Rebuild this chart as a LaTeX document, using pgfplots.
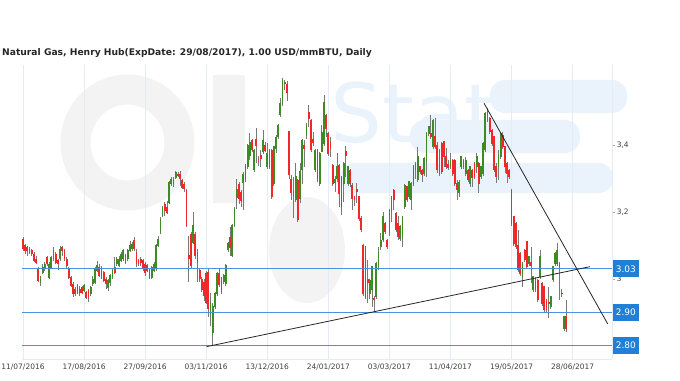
\documentclass[border=0pt]{standalone}
\usepackage{pgfplots}
\pgfplotsset{compat=1.18}
\usepackage{pgfplotstable}
\usepackage{fontspec}
\setmainfont{DejaVu Sans}
\definecolor{upc}{RGB}{60,140,35}
\definecolor{dnc}{RGB}{240,40,40}
\definecolor{wick}{RGB}{120,120,120}
\definecolor{lvl}{RGB}{74,146,222}
\definecolor{lvlbox}{RGB}{34,127,214}
\definecolor{gridc}{RGB}{226,236,246}
\definecolor{wmgray}{RGB}{243,243,243}
\definecolor{wmblue}{RGB}{234,243,252}

\pgfplotstableread{
i o h l c
0 3.12 3.125 3.085 3.09
1 3.10 3.105 3.075 3.085
2 3.095 3.10 3.07 3.085
3 3.09 3.095 3.075 3.08
4 3.085 3.09 3.07 3.075
5 3.075 3.08 3.05 3.055
6 3.06 3.07 3.045 3.05
7 3.03 3.035 2.99 2.995
8 2.99 3.01 2.98 3.005
9 3.02 3.045 3.015 3.035
10 3.03 3.05 3.025 3.045
11 3.065 3.07 3.04 3.045
12 3.005 3.05 3.0 3.045
13 3.035 3.07 3.03 3.065
14 3.06 3.095 3.055 3.085
15 3.075 3.08 3.045 3.05
16 3.055 3.06 3.027 3.045
17 3.06 3.10 3.055 3.09
18 3.095 3.10 3.07 3.085
19 3.085 3.09 3.055 3.06
20 3.06 3.065 3.03 3.04
21 3.03 3.035 3.0 3.005
22 3.005 3.01 2.975 2.98
23 2.985 2.99 2.945 2.955
24 2.97 2.975 2.95 2.955
25 2.98 2.985 2.955 2.96
26 2.97 2.98 2.95 2.96
27 2.975 2.98 2.955 2.96
28 2.965 2.985 2.96 2.98
29 2.96 2.965 2.94 2.945
30 2.965 2.97 2.93 2.945
31 2.955 2.98 2.95 2.975
32 2.985 3.01 2.98 3.0
33 2.99 3.035 2.985 3.03
34 3.025 3.055 3.02 3.04
35 3.035 3.045 3.005 3.01
36 3.03 3.04 3.0 3.005
37 3.02 3.025 2.99 2.995
38 3.0 3.005 2.97 2.985
39 2.975 3.0 2.965 2.995
40 2.99 3.015 2.98 3.01
41 3.005 3.03 3.0 3.025
42 3.035 3.065 3.015 3.02
43 3.045 3.065 3.04 3.06
44 3.04 3.07 3.035 3.06
45 3.055 3.08 3.05 3.075
46 3.06 3.09 3.055 3.085
47 3.05 3.075 3.045 3.07
48 3.06 3.09 3.055 3.085
49 3.085 3.115 3.08 3.10
50 3.09 3.11 3.085 3.105
51 3.115 3.125 3.085 3.09
52 3.08 3.09 3.035 3.045
53 3.055 3.06 3.04 3.045
54 3.06 3.065 3.04 3.05
55 3.055 3.06 3.025 3.03
56 3.045 3.05 3.01 3.02
57 3.04 3.045 3.02 3.025
58 3.025 3.03 3.0 3.005
59 3.005 3.04 3.0 3.035
60 3.025 3.05 3.02 3.045
61 3.03 3.105 3.025 3.10
62 3.10 3.13 3.095 3.12
63 3.14 3.185 3.135 3.18
64 3.19 3.22 3.185 3.215
65 3.225 3.23 3.19 3.205
66 3.215 3.235 3.195 3.20
67 3.23 3.295 3.225 3.29
68 3.285 3.305 3.28 3.30
69 3.295 3.305 3.275 3.285
70 3.305 3.325 3.30 3.32
71 3.315 3.32 3.305 3.31
72 3.315 3.325 3.28 3.30
73 3.295 3.30 3.27 3.275
74 3.285 3.29 3.26 3.27
75 3.265 3.27 3.155 3.16
76 3.07 3.13 2.99 3.06
77 3.135 3.14 3.03 3.04
78 3.11 3.20 3.105 3.16
79 3.135 3.14 3.06 3.07
80 3.08 3.09 2.99 3.05
81 3.025 3.03 2.99 3.0
82 3.0 3.005 2.96 2.967
83 2.99 3.0 2.935 2.95
84 3.017 3.025 2.925 2.93
85 3.02 3.03 2.885 2.91
86 2.89 2.957 2.86 2.93
87 2.84 2.927 2.80 2.917
88 2.917 2.96 2.91 2.957
89 2.957 3.02 2.95 3.017
90 3.017 3.032 2.975 2.982
91 3.002 3.005 2.955 2.962
92 2.992 3.015 2.985 3.012
93 2.987 3.045 2.98 3.042
94 3.087 3.11 3.08 3.107
95 3.125 3.155 3.07 3.095
96 3.07 3.165 3.065 3.16
97 3.16 3.215 3.155 3.21
98 3.245 3.30 3.21 3.27
99 3.285 3.29 3.225 3.24
100 3.26 3.267 3.217 3.235
101 3.29 3.32 3.207 3.315
102 3.337 3.345 3.29 3.297
103 3.337 3.405 3.33 3.40
104 3.37 3.437 3.357 3.41
105 3.417 3.42 3.38 3.387
106 3.327 3.39 3.32 3.387
107 3.42 3.452 3.347 3.40
108 3.358 3.37 3.34 3.356
109 3.37 3.387 3.337 3.36
110 3.382 3.447 3.375 3.417
111 3.40 3.41 3.38 3.385
112 3.337 3.407 3.33 3.377
113 3.337 3.39 3.33 3.387
114 3.387 3.39 3.24 3.247
115 3.287 3.40 3.28 3.397
116 3.39 3.432 3.377 3.425
117 3.427 3.465 3.42 3.462
118 3.492 3.542 3.485 3.527
119 3.527 3.602 3.52 3.597
120 3.585 3.597 3.567 3.59
121 3.585 3.595 3.535 3.56
122 3.442 3.445 3.30 3.312
123 3.30 3.312 3.237 3.26
124 3.265 3.307 3.182 3.25
125 3.237 3.347 3.23 3.307
126 3.297 3.30 3.17 3.177
127 3.24 3.347 3.227 3.322
128 3.327 3.42 3.285 3.417
129 3.40 3.417 3.337 3.39
130 3.43 3.467 3.42 3.46
131 3.50 3.522 3.455 3.48
132 3.477 3.48 3.38 3.387
133 3.42 3.442 3.40 3.41
134 3.327 3.39 3.32 3.387
135 3.387 3.39 3.29 3.297
136 3.287 3.38 3.28 3.377
137 3.382 3.462 3.38 3.44
138 3.407 3.552 3.40 3.53
139 3.492 3.495 3.427 3.45
140 3.437 3.44 3.37 3.377
141 3.41 3.427 3.367 3.39
142 3.342 3.345 3.28 3.287
143 3.29 3.31 3.26 3.30
144 3.30 3.377 3.29 3.337
145 3.342 3.345 3.217 3.257
146 3.307 3.31 3.192 3.217
147 3.287 3.35 3.23 3.347
148 3.382 3.40 3.307 3.37
149 3.287 3.34 3.28 3.337
150 3.327 3.33 3.275 3.285
151 3.282 3.287 3.207 3.242
152 3.247 3.25 3.22 3.237
153 3.27 3.287 3.227 3.262
154 3.247 3.25 3.175 3.182
155 3.182 3.19 3.14 3.147
156 3.10 3.105 2.95 2.957
157 3.097 3.10 2.94 2.947
158 3.0 3.057 2.927 2.99
159 2.957 3.0 2.94 2.997
160 2.967 3.04 2.917 3.037
161 2.942 2.95 2.902 2.938
162 2.947 3.05 2.94 3.047
163 3.04 3.097 3.027 3.08
164 3.097 3.137 3.087 3.117
165 3.117 3.20 3.11 3.187
166 3.167 3.17 3.135 3.142
167 3.117 3.12 3.09 3.097
168 3.137 3.21 3.13 3.207
169 3.202 3.25 3.172 3.247
170 3.267 3.27 3.207 3.237
171 3.197 3.20 3.14 3.147
172 3.167 3.19 3.117 3.127
173 3.122 3.162 3.115 3.157
174 3.127 3.19 3.097 3.187
175 3.217 3.285 3.21 3.282
176 3.277 3.28 3.23 3.237
177 3.247 3.295 3.24 3.292
178 3.237 3.29 3.207 3.287
179 3.337 3.342 3.28 3.287
180 3.327 3.35 3.30 3.347
181 3.297 3.397 3.29 3.367
182 3.337 3.34 3.315 3.322
183 3.327 3.33 3.29 3.312
184 3.317 3.365 3.31 3.362
185 3.352 3.44 3.307 3.437
186 3.437 3.46 3.43 3.457
187 3.437 3.492 3.42 3.427
188 3.397 3.48 3.39 3.477
189 3.427 3.482 3.39 3.397
190 3.40 3.412 3.317 3.327
191 3.317 3.39 3.31 3.387
192 3.407 3.41 3.315 3.322
193 3.412 3.415 3.337 3.367
194 3.367 3.392 3.33 3.337
195 3.345 3.357 3.327 3.335
196 3.337 3.377 3.33 3.357
197 3.357 3.36 3.31 3.317
198 3.357 3.36 3.28 3.287
199 3.287 3.297 3.237 3.267
200 3.26 3.297 3.247 3.29
201 3.337 3.37 3.33 3.367
202 3.357 3.36 3.33 3.337
203 3.317 3.367 3.31 3.357
204 3.327 3.33 3.29 3.297
205 3.287 3.34 3.277 3.337
206 3.327 3.33 3.277 3.305
207 3.347 3.35 3.30 3.307
208 3.337 3.377 3.317 3.367
209 3.347 3.35 3.257 3.287
210 3.307 3.34 3.30 3.337
211 3.317 3.41 3.31 3.407
212 3.387 3.50 3.38 3.497
213 3.477 3.512 3.47 3.507
214 3.482 3.485 3.435 3.442
215 3.447 3.45 3.40 3.407
216 3.427 3.43 3.32 3.327
217 3.337 3.347 3.287 3.307
218 3.337 3.387 3.297 3.372
219 3.367 3.442 3.36 3.437
220 3.432 3.442 3.39 3.397
221 3.397 3.40 3.317 3.337
222 3.347 3.35 3.287 3.317
223 3.327 3.33 3.30 3.307
224 3.267 3.27 3.16 3.167
225 3.187 3.19 3.10 3.107
226 3.167 3.17 3.09 3.097
227 3.102 3.147 3.02 3.027
228 3.077 3.08 3.01 3.017
229 3.007 3.05 2.977 3.047
230 3.087 3.09 3.05 3.057
231 3.112 3.115 3.03 3.037
232 3.047 3.07 3.04 3.067
233 3.05 3.097 2.987 3.04
234 2.967 3.01 2.96 3.007
235 3.002 3.005 2.96 2.967
236 2.997 3.0 2.93 2.937
237 3.007 3.087 3.0 3.067
238 2.987 2.99 2.92 2.927
239 2.977 2.98 2.90 2.907
240 2.937 2.94 2.90 2.907
241 2.93 2.977 2.882 2.928
242 2.917 2.95 2.91 2.947
243 2.997 3.04 2.99 3.037
244 3.047 3.08 3.04 3.077
245 3.047 3.107 3.04 3.087
246 3.047 3.05 2.937 3.037
247 2.958 2.97 2.945 2.956
248 2.852 2.89 2.845 2.887
249 2.887 2.937 2.842 2.852
}\candles

\begin{document}
\begin{tikzpicture}
\useasboundingbox (0,0) rectangle (680bp,381bp);
% watermark
\draw[wmgray, line width=30bp] (127.5bp,238.5bp) ellipse [x radius=52bp, y radius=53bp];
\fill[wmgray] (213bp,178bp) rectangle (245bp,306bp);
\fill[wmgray] (307bp,131bp) ellipse [x radius=38bp, y radius=53bp];
\fill[wmblue, rounded corners=15bp] (490bp,268bp) rectangle (627bp,301bp);
\fill[wmblue, rounded corners=15bp] (410bp,228bp) rectangle (580bp,261bp);
\fill[wmblue, rounded corners=14bp] (340bp,188bp) rectangle (613bp,218bp);
\node[anchor=base west, text=wmblue, inner sep=0pt, font=\fontsize{82}{82}\selectfont] at (330bp,238bp) {Stat};
% title
\node[anchor=base west, inner sep=0pt, text=black!85, font=\bfseries\fontsize{9.2}{11}\selectfont] at (2bp,325.5bp) {Natural Gas, Henry Hub(ExpDate: 29/08/2017), 1.00 USD/mmBTU, Daily};
\begin{axis}[
  at={(22bp,21.7bp)}, anchor=south west, scale only axis,
  width=590.3bp, height=294.3bp,
  xmin=-0.46, xmax=270.2, ymin=2.759, ymax=3.642,
  axis x line*=bottom, axis y line*=right,
  axis line style={draw=gridc, line width=0.8bp},
  xtick={0,28,...,252},
  xticklabels={11/07/2016,17/08/2016,27/09/2016,03/11/2016,13/12/2016,24/01/2017,03/03/2017,11/04/2017,19/05/2017,28/06/2017},
  xticklabel style={yshift=1.5bp},
  xmajorgrids, grid style={gridc, line width=0.8bp},
  x tick style={draw=none},
  ytick={3,3.2,3.4},
  y tick style={draw=black!35, line width=0.5bp},
  yticklabel style={xshift=-2bp},
  tick align=outside, major tick length=3bp,
  /pgf/number format/.cd, use comma, fixed, precision=1, assume math mode=true, /pgfplots/.cd,
  ticklabel style={font=\fontsize{7.5}{9}\selectfont, text=black!75},
]
\addplot[draw=none, mark=none, forget plot,
  error bars/.cd, y dir=both, y explicit, error mark=none,
  error bar style={draw=wick, line width=0.7bp}]
  table[x=i, y expr={(\thisrow{h}+\thisrow{l})/2}, y error expr={(\thisrow{h}-\thisrow{l})/2}] {\candles};
\addplot[draw=none, mark=none, forget plot,
  error bars/.cd, y dir=both, y explicit, error mark=none,
  error bar style={draw=upc, line width=1.8bp}]
  table[x=i, y expr={\thisrow{c}>=\thisrow{o} ? (\thisrow{o}+\thisrow{c})/2 : nan}, y error expr={abs(\thisrow{c}-\thisrow{o})/2+0.001}] {\candles};
\addplot[draw=none, mark=none, forget plot,
  error bars/.cd, y dir=both, y explicit, error mark=none,
  error bar style={draw=dnc, line width=1.8bp}]
  table[x=i, y expr={\thisrow{c}<\thisrow{o} ? (\thisrow{o}+\thisrow{c})/2 : nan}, y error expr={abs(\thisrow{c}-\thisrow{o})/2+0.001}] {\candles};
% level lines
\addplot[lvl, line width=1bp, mark=none] coordinates {(-0.46,3.03) (270.2,3.03)};
\addplot[lvl, line width=1bp, mark=none] coordinates {(-0.46,2.90) (270.2,2.90)};
\addplot[lvl, line width=1bp, mark=none] coordinates {(-0.46,2.80) (270.2,2.80)};
% trend lines
\addplot[black!85, line width=0.8bp, mark=none] coordinates {(211.4,3.527) (268.1,2.865)};
\addplot[black!85, line width=0.8bp, mark=none] coordinates {(84.2,2.797) (260,3.037)};
\coordinate (b303) at (axis cs:270.2,3.03);
\coordinate (b290) at (axis cs:270.2,2.90);
\coordinate (b280) at (axis cs:270.2,2.80);
\end{axis}
\foreach \p/\t in {b303/3.03,b290/2.90,b280/2.80}{
  \node[fill=lvlbox, text=white, anchor=west, minimum width=26bp, minimum height=17bp, inner sep=0pt, font=\fontsize{9}{10}\selectfont] at ([xshift=0.4bp]\p) {\t};
}
\end{tikzpicture}
\end{document}
